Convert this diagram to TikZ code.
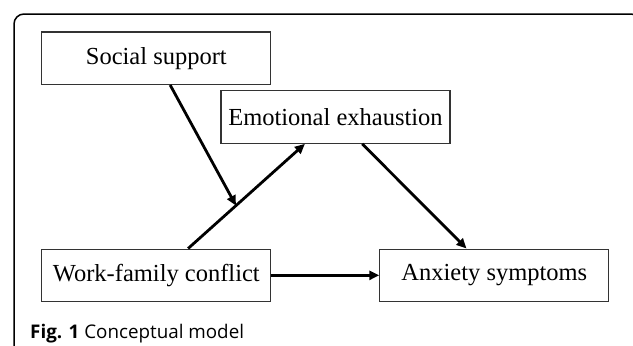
\documentclass[tikz,border=0pt]{standalone}
\usepackage{fontspec}
\setmainfont{Liberation Serif}
\newfontfamily\capfont{Open Sans}
\usetikzlibrary{arrows.meta,calc}
\tikzset{
  varbox/.style={draw=black!80, line width=1.2pt, fill=white, inner sep=0pt,
    minimum width=229pt, minimum height=52.5pt, font=\fontsize{24.5}{28}\selectfont},
  conn/.style={line width=2.8pt, -{Triangle[length=10pt,width=9pt]}},
  frameline/.style={line width=1.5pt, rounded corners=10pt}
}
\begin{document}
\begin{tikzpicture}[x=1pt,y=-1pt]
\useasboundingbox (0,0) rectangle (633,346);
\clip (0,0) rectangle (633,346);
\fill[white] (0,0) rectangle (633,346);
\draw[frameline] (14,420) -- (14,14) -- (641,14) -- (641,420);
\node[varbox] (ss)  at (156.35,58.15) {Social support};
\node[varbox] (ee)  at (335.5,117) {Emotional exhaustion};
\node[varbox] (wfc) at (156.35,275.35) {Work-family conflict};
\node[varbox] (anx) at (494.35,275.35) {Anxiety symptoms};
\coordinate (wfcTop) at ($(wfc.north west)!0.638!(wfc.north east)$);
\coordinate (eeBotL) at ($(ee.south west)!0.367!(ee.south east)$);
\coordinate (eeBotR) at ($(ee.south west)!0.616!(ee.south east)$);
\coordinate (ssBot) at ($(ss.south west)!0.56!(ss.south east)$);
\coordinate (anxTop) at ($(anx.north west)!0.379!(anx.north east)$);
\coordinate (mod) at ($(wfcTop)!0.41!(eeBotL)$);
\draw[conn] (wfcTop) -- (eeBotL);
\draw[conn] (ssBot) -- (mod);
\draw[conn] (eeBotR) -- (anxTop);
\draw[conn] (wfc.east) -- (anx.west);
\node[anchor=base west, inner sep=0pt, font=\capfont\fontsize{18.8}{22}\selectfont] (cap) at (30,338.5) {\textbf{Fig. 1} Conceptual model};
\end{tikzpicture}
\end{document}
